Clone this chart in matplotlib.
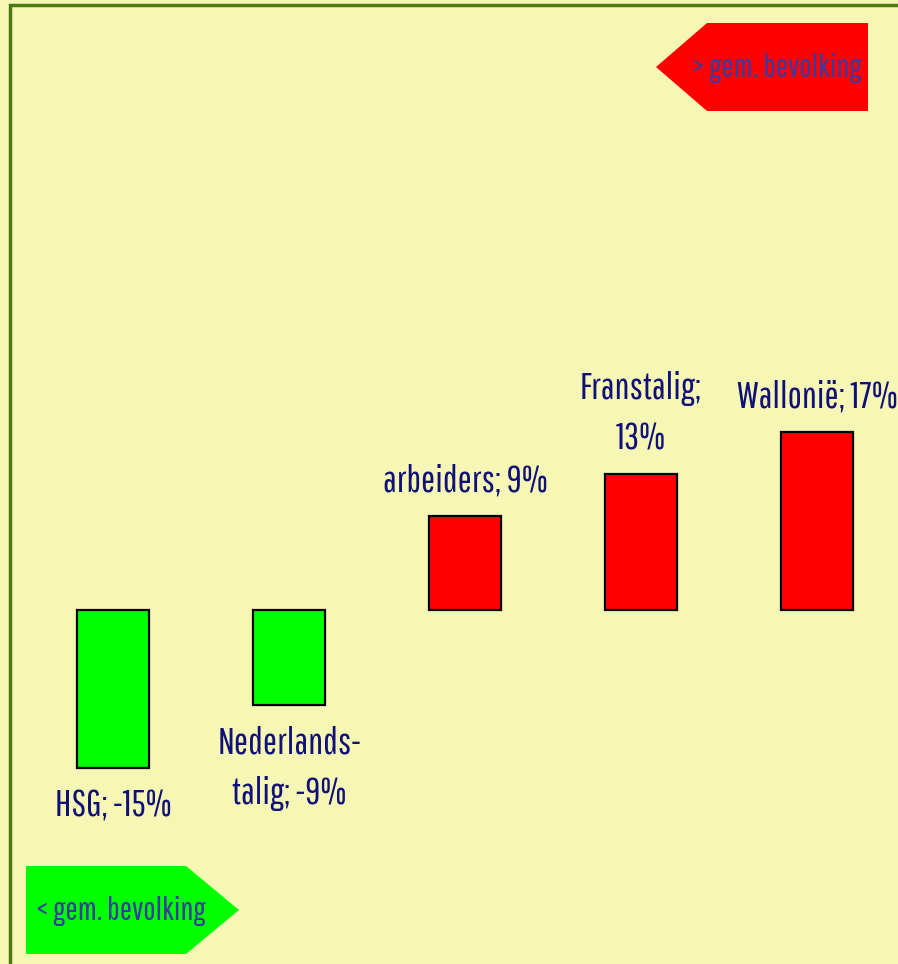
import matplotlib.pyplot as plt
from matplotlib.patches import Polygon, Rectangle

# data
categories = ["HSG", "Nederlands-\ntalig", "arbeiders", "Franstalig", "Wallonië"]
values = [-15, -9, 9, 13, 17]
break_after_name = [False, False, False, True, False]

W, H = 898, 964
BG = "#f7f7b5"
LABEL_COLOR = "#10107a"
BADGE_TEXT = "#3a3aa0"
FONT = ["Pathway Gothic One", "DejaVu Sans"]

fig = plt.figure(figsize=(W / 100, H / 100), dpi=100)
fig.patch.set_facecolor(BG)
ax = fig.add_axes([0, 0, 1, 1])
ax.set_facecolor(BG)

# scale: category i centred at 113 + 176*i px, value 0 at 610 px from top, 10.5 px per %
ax.set_xlim(-113 / 176, (W - 113) / 176)
ax.set_ylim((610 - H) / 10.5, 610 / 10.5)
ax.axis("off")

colors = ["#00ff00" if v < 0 else "#ff0000" for v in values]
bars = ax.bar(range(len(values)), values, width=0.41, color=colors,
              edgecolor="black", linewidth=1.6, zorder=3)

for i, (bar, name, v) in enumerate(zip(bars, categories, values)):
    sep = "\n" if break_after_name[i] else " "
    text = f"{name};{sep}{v}%"
    x = bar.get_x() + bar.get_width() / 2
    off = 12 if v >= 0 else -15
    ax.annotate(text, (x, v), xytext=(0, off), textcoords="offset points",
                ha="center", va="bottom" if v >= 0 else "top", fontsize=27,
                color=LABEL_COLOR, family=FONT, linespacing=1.55)

# pixel (from top-left) -> figure fraction
def fpt(x, y):
    return (x / W, 1 - y / H)

# frame line (only top and left edges fall inside the picture)
frame = Rectangle(fpt(10, 990), (W + 40) / W, 985 / H, transform=fig.transFigure,
                  fill=False, edgecolor="#4d7a12", linewidth=2.5, zorder=5)
fig.patches.append(frame)

# badges
red_pts = [fpt(656, 67), fpt(707, 23), fpt(868, 23), fpt(868, 111), fpt(707, 111)]
fig.patches.append(Polygon(red_pts, closed=True, transform=fig.transFigure,
                           facecolor="#ff0000", edgecolor="none", zorder=4))
fig.text(*fpt(777, 68), "> gem. bevolking", ha="center", va="center", fontsize=23.5,
         color=BADGE_TEXT, family=FONT, zorder=6)

green_pts = [fpt(26, 866), fpt(186, 866), fpt(239, 910), fpt(186, 954), fpt(26, 954)]
fig.patches.append(Polygon(green_pts, closed=True, transform=fig.transFigure,
                           facecolor="#00ff00", edgecolor="none", zorder=4))
fig.text(*fpt(121, 911), "< gem. bevolking", ha="center", va="center", fontsize=23.5,
         color=BADGE_TEXT, family=FONT, zorder=6)

fig.savefig("out.png", dpi=100, facecolor=BG)
